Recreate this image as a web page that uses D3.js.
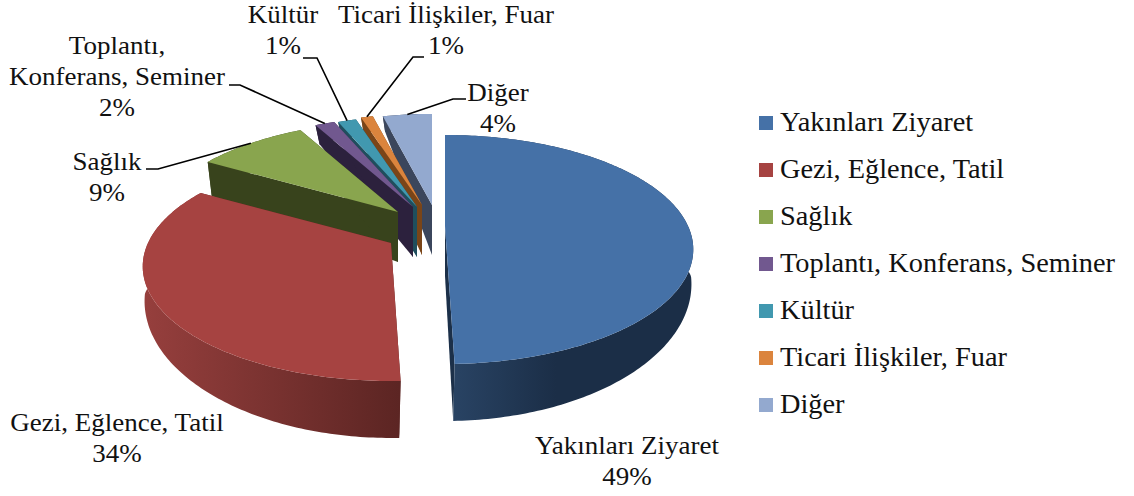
<!DOCTYPE html>
<html>
<head>
<meta charset="utf-8">
<script src="https://cdn.jsdelivr.net/npm/d3@7"></script>
<style>
html, body { margin: 0; padding: 0; background: #fff; }
text { font-family: "Liberation Serif", serif; fill: #111; }
</style>
</head>
<body>
<svg id="chart" width="1134" height="496"></svg>
<script>
// chart values
var categories = ['Yakınları Ziyaret', 'Gezi, Eğlence, Tatil', 'Sağlık',
      'Toplantı, Konferans, Seminer', 'Kültür', 'Ticari İlişkiler, Fuar', 'Diğer'],
    values = [49.5, 33.9, 8.75, 1.55, 1.45, 0.95, 3.9],
    percentLabels = ['49%', '34%', '9%', '2%', '1%', '1%', '4%'],
    labelLines = [['Yakınları Ziyaret'], ['Gezi, Eğlence, Tatil'], ['Sağlık'],
      ['Toplantı,', 'Konferans, Seminer'], ['Kültür'], ['Ticari İlişkiler, Fuar'], ['Diğer']];

// styles
var topColors = ['#4571a7', '#a64341', '#89a54e', '#71588f', '#4198af', '#db843d', '#93a9cf'],
    wallColors = ['#1c3049', '#5c2523', '#38431c', '#2c213d', '#1f4e5d', '#7a4518', '#3b465c'],
    rimStops = [
      [[0, '#2a4566'], [0.45, '#1b2e47'], [1, '#1b2e47']],
      [[0, '#963f3d'], [1, '#5c2523']],
      [[0, '#38431c']], [[0, '#2c213d']], [[0, '#1f4e5d']], [[0, '#7a4518']], [[0, '#3b465c']]
    ];

// layout: where each exploded slice sits on the page, and its label
var anchors = [[445, 226], [391, 243], [398, 212], [413, 207], [417, 207], [422, 205], [432, 205]],
    labelPos = [[627, 454], [117, 431], [107, 170], [117, 54], [283, 23], [446, 23], [498, 101]],
    elbows = [null, null, [[146, 169], [158, 169]], [[229, 85], [240, 85]],
      [[303, 58], [317, 58]], [[424, 57], [413, 57]], [[466, 99], [453, 99]]],
    drawOrder = [6, 5, 4, 3, 2, 0, 1];

var RX = 243, RY = 109.7, PERSP = 0.205,
    BOTTOM_RX = 246, BOTTOM_RY = 135.4, BOTTOM_PERSP = 0.066,
    BOTTOM_FRONT_PERSP = 0.06, BOTTOM_BACK_PERSP = 0.28, DEPTH = 50;

var svg = d3.select('#chart'),
    defs = svg.append('defs'),
    line = d3.line(),
    arcs = d3.pie().sort(null).startAngle(0).endAngle(2 * Math.PI)(values);

// top plane of a slice, r is 0..1 of the radius
function topPoint(i, a, r) {
  var u = r * Math.sin(a), v = -r * Math.cos(a), s = 1 / (1 - PERSP * v);
  return [anchors[i][0] + u * RX * s, anchors[i][1] + v * RY * s];
}

function bottomPoint(i, a, r) {
  var u = r * Math.sin(a), v = -r * Math.cos(a),
      s = 1 / (1 - (v < 0 ? BOTTOM_BACK_PERSP : BOTTOM_FRONT_PERSP) * v),
      sb = 1 / (1 - BOTTOM_PERSP * v);
  return [anchors[i][0] + u * BOTTOM_RX * s, anchors[i][1] + DEPTH + v * BOTTOM_RY * sb];
}

function rim(fn, i, d) {
  var n = Math.max(4, Math.ceil((d.endAngle - d.startAngle) * 60)),
      angle = d3.scaleLinear().domain([0, n]).range([d.startAngle, d.endAngle]);
  return d3.range(n + 1).map(function(k) { return fn(i, angle(k), 1); });
}

drawOrder.forEach(function(i) {
  var d = arcs[i],
      g = svg.append('g').attr('class', 'slice'),
      topRim = rim(topPoint, i, d),
      bottomRim = rim(bottomPoint, i, d),
      xs = bottomRim.map(function(p) { return p[0]; }),
      gradId = 'rim' + i;

  defs.append('linearGradient').attr('id', gradId)
    .attr('gradientUnits', 'userSpaceOnUse')
    .attr('x1', d3.min(xs)).attr('x2', d3.max(xs)).attr('y1', 0).attr('y2', 0)
    .selectAll('stop')
    .data(rimStops[i])
    .enter().append('stop')
    .attr('offset', function(s) { return s[0]; })
    .attr('stop-color', function(s) { return s[1]; });

  // cut walls
  [d.startAngle, d.endAngle].forEach(function(a) {
    g.append('path')
      .attr('fill', wallColors[i])
      .attr('d', line([
        topPoint(i, a, 0), bottomPoint(i, a, 0), bottomPoint(i, a, 1), topPoint(i, a, 1)
      ]) + 'Z');
  });

  // outer wall
  g.append('path')
    .attr('fill', 'url(#' + gradId + ')')
    .attr('d', line(topRim.concat(bottomRim.slice().reverse())) + 'Z');

  // top face
  g.append('path')
    .attr('fill', topColors[i])
    .attr('d', line([topPoint(i, 0, 0)].concat(topRim)) + 'Z');
});

// leader lines
elbows.forEach(function(pts, i) {
  if (!pts) return;
  var mid = (arcs[i].startAngle + arcs[i].endAngle) / 2;
  svg.append('path')
    .attr('fill', 'none')
    .attr('stroke', '#000')
    .attr('stroke-width', 1.6)
    .attr('d', line(pts.concat([topPoint(i, mid, 1)])));
});

// data labels, the source picture is stretched a bit sideways
categories.forEach(function(c, i) {
  var t = svg.append('g')
    .attr('transform', 'translate(' + labelPos[i][0] + ',' + labelPos[i][1] + ') scale(1.08,1)')
    .append('text')
    .attr('text-anchor', 'middle')
    .attr('font-size', 25);
  labelLines[i].concat([percentLabels[i]]).forEach(function(s, k) {
    t.append('tspan')
      .attr('x', 0)
      .attr('y', k * 31)
      .text(s);
  });
});

// legend
var legendY = d3.scalePoint().domain(categories).range([123, 405]);

var legend = svg.append('g').selectAll('g')
  .data(categories)
  .enter().append('g')
  .attr('transform', function(d) { return 'translate(759,' + legendY(d) + ')'; });

legend.append('rect')
  .attr('y', -7).attr('width', 14).attr('height', 14)
  .attr('fill', function(d, i) { return topColors[i]; });

legend.append('text')
  .attr('transform', 'translate(21,8) scale(1.07,1)')
  .attr('font-size', 26.5)
  .text(function(d) { return d; });
</script>
</body>
</html>
